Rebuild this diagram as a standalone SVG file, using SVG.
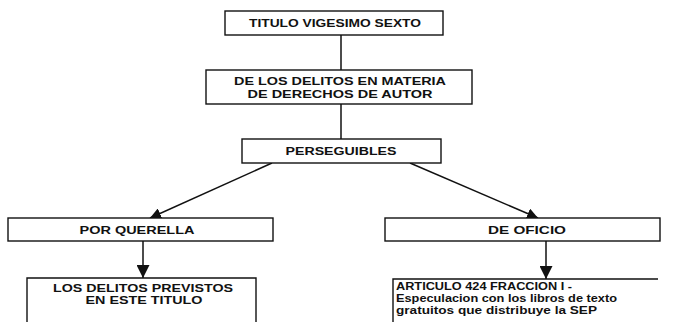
<svg xmlns="http://www.w3.org/2000/svg" width="689" height="322" viewBox="0 0 689 322">
<defs>
<style>
.box{fill:#fff;stroke:#111;stroke-width:1.4}
.open{fill:none;stroke:#111;stroke-width:1.4}
.t{font-family:"Liberation Sans",Arial,sans-serif;font-weight:bold;font-size:11px;fill:#111}
.c{text-anchor:middle}
.s{font-family:"Liberation Sans",Arial,sans-serif;font-weight:bold;font-size:10.5px;fill:#111}
.ln{stroke:#111;stroke-width:1.5;fill:none}
</style>
<marker id="ah" viewBox="0 0 10 10" refX="10" refY="5" markerWidth="11" markerHeight="11" markerUnits="userSpaceOnUse" orient="auto">
<path d="M0,0 L10,5 L0,10 z" fill="#111"/>
</marker>
<marker id="ah2" viewBox="0 0 10 10" refX="10" refY="5" markerWidth="13" markerHeight="13" markerUnits="userSpaceOnUse" orient="auto">
<path d="M0,0 L10,5 L0,10 z" fill="#111"/>
</marker>
</defs>
<g id="connectors">
<line class="ln" x1="341" y1="35" x2="341" y2="70"/>
<line class="ln" x1="341" y1="104" x2="341" y2="139"/>
<line class="ln" x1="272" y1="163" x2="150" y2="218" marker-end="url(#ah)"/>
<line class="ln" x1="410" y1="163" x2="538" y2="218" marker-end="url(#ah)"/>
<line class="ln" x1="143" y1="241" x2="143" y2="278" marker-end="url(#ah2)"/>
<line class="ln" x1="546" y1="241" x2="546" y2="279" marker-end="url(#ah2)"/>
</g>
<g id="n1">
<rect class="box" x="225" y="11" width="218" height="24"/>
<text class="t c" x="335" y="27" textLength="172" lengthAdjust="spacingAndGlyphs">TITULO VIGESIMO SEXTO</text>
</g>
<g id="n2">
<rect class="box" x="206" y="70" width="266" height="34"/>
<text class="t c" x="340" y="85" textLength="212" lengthAdjust="spacingAndGlyphs">DE LOS DELITOS EN MATERIA</text>
<text class="t c" x="340" y="98" textLength="185" lengthAdjust="spacingAndGlyphs">DE DERECHOS DE AUTOR</text>
</g>
<g id="n3">
<rect class="box" x="242" y="139" width="199" height="24"/>
<text class="t c" x="341" y="155" textLength="111" lengthAdjust="spacingAndGlyphs">PERSEGUIBLES</text>
</g>
<g id="n4">
<rect class="box" x="8" y="218" width="265" height="23"/>
<text class="t c" x="137" y="234" textLength="115" lengthAdjust="spacingAndGlyphs">POR QUERELLA</text>
</g>
<g id="n5">
<rect class="box" x="385" y="218" width="275" height="23"/>
<text class="t c" x="527" y="234" textLength="78" lengthAdjust="spacingAndGlyphs">DE OFICIO</text>
</g>
<g id="n6">
<path class="open" d="M27,322 V278 H256 V322"/>
<text class="t c" x="143" y="292" textLength="180" lengthAdjust="spacingAndGlyphs">LOS DELITOS PREVISTOS</text>
<text class="t c" x="144" y="304" textLength="117" lengthAdjust="spacingAndGlyphs">EN ESTE TITULO</text>
</g>
<g id="n7">
<path class="open" d="M393,322 V279 H658"/>
<text class="t" x="396" y="290" textLength="176" lengthAdjust="spacingAndGlyphs">ARTICULO  424 FRACCION I -</text>
<text class="s" x="396" y="302" textLength="221" lengthAdjust="spacingAndGlyphs">Especulacion con los libros de texto</text>
<text class="s" x="396" y="314" textLength="201" lengthAdjust="spacingAndGlyphs">gratuitos que distribuye la SEP</text>
</g>
</svg>
